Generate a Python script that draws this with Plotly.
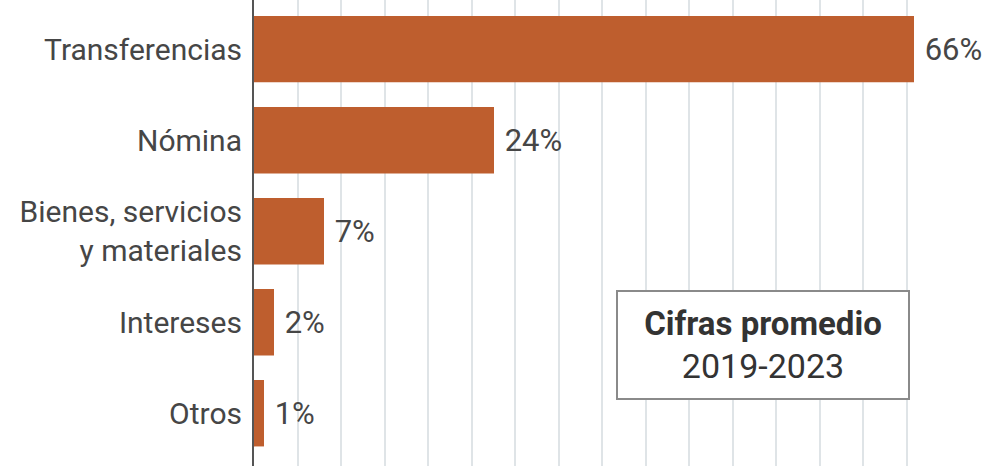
import plotly.graph_objects as go

categories = ["Transferencias", "Nómina", "Bienes, servicios<br>y materiales", "Intereses", "Otros"]
values = [66, 24, 7, 2, 1]
value_labels = ["66%", "24%", "7%", "2%", "1%"]
grid_step = 4.35
grid_count = 15
grid_vals = [grid_step * i for i in range(1, grid_count + 1)]

BAR = "#BE5E2E"
TXT = "#464646"
FONT = "Roboto"

fig = go.Figure(go.Bar(
    y=categories, x=values, orientation="h",
    marker=dict(color=BAR, line=dict(width=0)),
    text=value_labels, texttemplate=" %{text}", textposition="outside",
    cliponaxis=False, constraintext="none",
    textfont=dict(family=FONT, size=31, color=TXT),
    width=0.73,
))

fig.update_layout(
    width=997, height=466,
    margin=dict(l=254, r=0, t=0, b=0),
    paper_bgcolor="white", plot_bgcolor="white",
    showlegend=False,
    font=dict(family=FONT, color=TXT),
    xaxis=dict(range=[0, 74.3], tickmode="array", tickvals=grid_vals,
               showticklabels=False, showgrid=True, gridcolor="#dfe4e7",
               gridwidth=2, zeroline=False, showline=False, fixedrange=True),
    yaxis=dict(range=[4.58, -0.54], showline=True, linecolor="#555555",
               linewidth=2, ticks="", ticklabelstandoff=4,
               tickfont=dict(family=FONT, size=30, color=TXT), showgrid=False),
    annotations=[dict(
        x=50.9, y=3.25, xref="x", yref="y",
        text="<b>Cifras promedio</b><br><span style='font-size:34px'>2019-2023</span>",
        showarrow=False, font=dict(family=FONT, size=33, color="#333333"),
        bgcolor="white", bordercolor="#8a8a8a", borderwidth=2,
        borderpad=14, width=262, height=78, align="center",
    )],
)

fig.write_html("out.html")
